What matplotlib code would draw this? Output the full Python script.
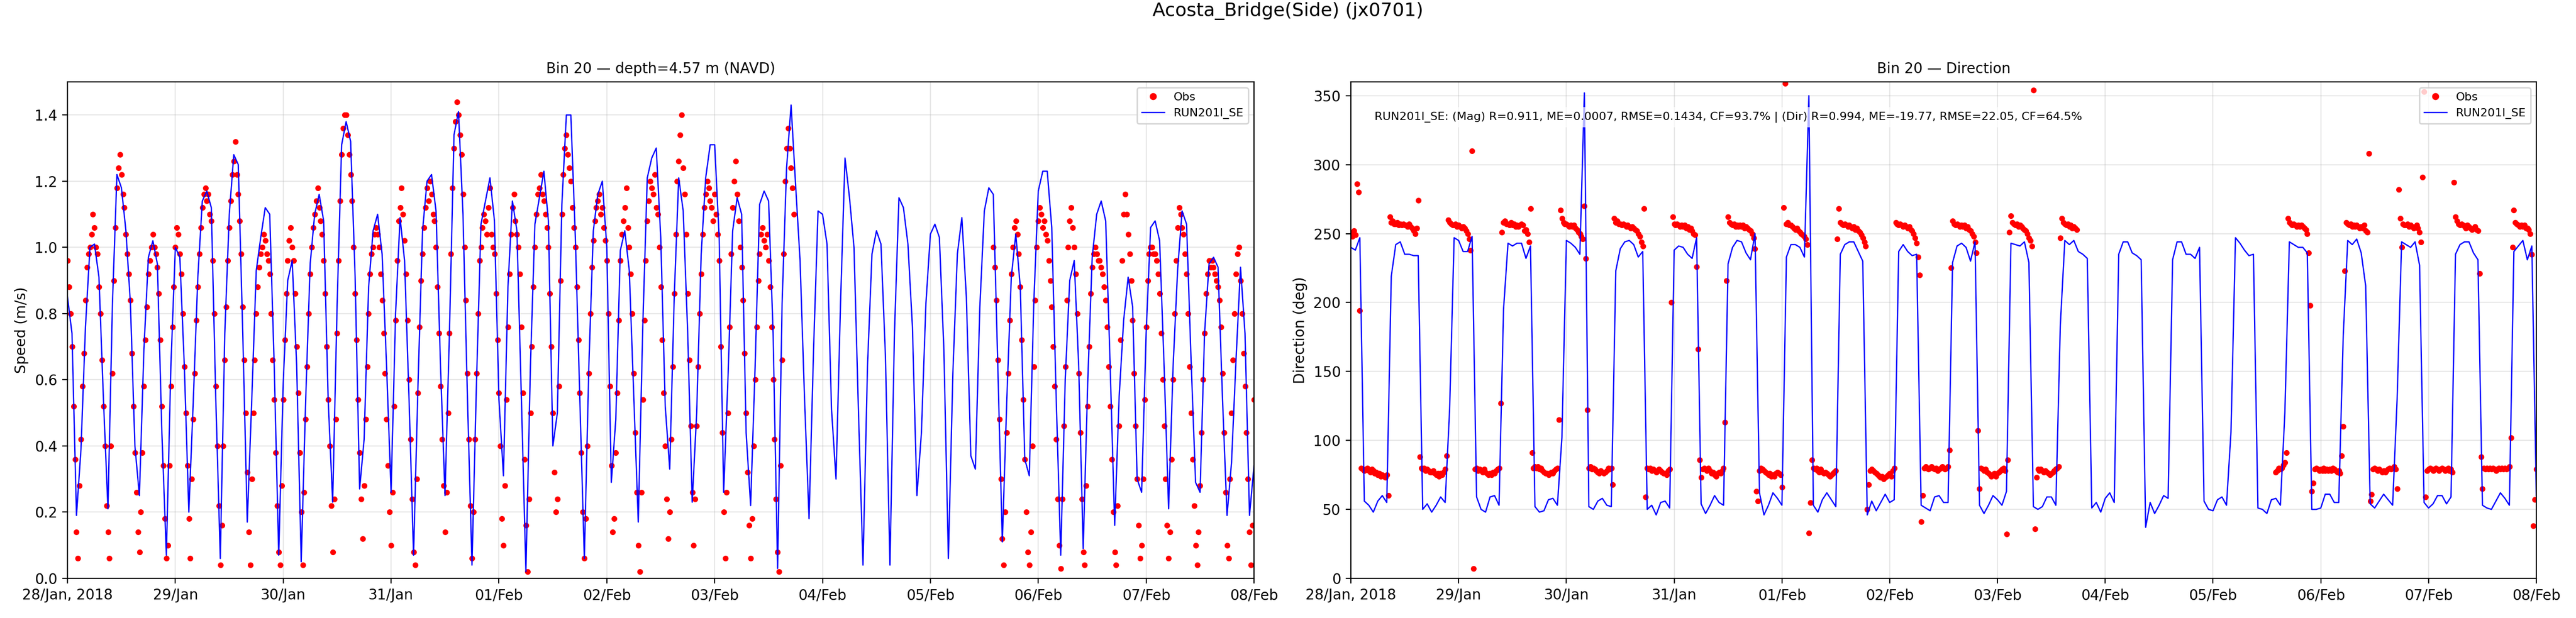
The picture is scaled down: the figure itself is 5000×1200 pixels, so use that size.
import numpy as np
import pandas as pd
import matplotlib
matplotlib.use("Agg")
import matplotlib.pyplot as plt
import matplotlib.dates as mdates

# ---------------- text ----------------
suptitle_text = "Acosta_Bridge(Side) (jx0701)"
title_speed = "Bin 20 \u2014 depth=4.57 m (NAVD)"
title_dir = "Bin 20 \u2014 Direction"
stats_text = ("RUN201I_SE: (Mag) R=0.911, ME=0.0007, RMSE=0.1434, CF=93.7% | "
              "(Dir) R=0.994, ME=-19.77, RMSE=22.05, CF=64.5%")
label_obs = "Obs"
label_model = "RUN201I_SE"
ylabel_speed = "Speed (m/s)"
ylabel_dir = "Direction (deg)"
x_tick_labels = ["28/Jan, 2018", "29/Jan", "30/Jan", "31/Jan", "01/Feb", "02/Feb",
                 "03/Feb", "04/Feb", "05/Feb", "06/Feb", "07/Feb", "08/Feb"]
speed_ticks = [0.0, 0.2, 0.4, 0.6, 0.8, 1.0, 1.2, 1.4]
dir_ticks = [0, 50, 100, 150, 200, 250, 300, 350]

# ---------------- data ----------------
model_start = "2018-01-28 00:00"          # hourly model output
obs_a_start = "2018-01-28 00:00"          # 20-min observations, part 1
obs_b_start = "2018-02-05 14:00"          # 20-min observations, part 2

# model speed (cm/s), hourly
model_speed_cm = [
    85, 74, 19, 39, 76, 100, 101, 91, 54, 21, 83, 122,
    118, 105, 83, 40, 25, 69, 97, 102, 95, 44, 7, 64,
    100, 97, 64, 20, 54, 91, 114, 117, 112, 54, 6, 74,
    110, 128, 125, 74, 17, 54, 93, 103, 112, 110, 64, 7,
    59, 90, 96, 64, 5, 54, 95, 110, 116, 108, 54, 23,
    83, 131, 138, 132, 91, 27, 42, 88, 105, 110, 98, 64,
    26, 80, 109, 96, 54, 7, 59, 105, 120, 122, 111, 64,
    25, 75, 134, 141, 110, 54, 4, 59, 107, 114, 121, 108,
    54, 31, 88, 114, 105, 54, 2, 64, 107, 115, 123, 108,
    40, 50, 113, 140, 140, 103, 54, 6, 64, 105, 116, 120,
    100, 29, 48, 99, 105, 93, 55, 17, 76, 121, 127, 130,
    103, 52, 33, 85, 121, 111, 74, 23, 50, 98, 121, 131,
    131, 103, 26, 62, 105, 115, 110, 44, 22, 64, 113, 117,
    114, 74, 3, 83, 124, 143, 119, 96, 54, 18, 69, 111,
    110, 101, 51, 30, 83, 127, 115, 100, 50, 4, 64, 98,
    105, 101, 67, 4, 74, 115, 112, 101, 76, 25, 44, 83,
    104, 107, 103, 69, 6, 62, 98, 109, 85, 37, 33, 82,
    111, 118, 116, 64, 11, 54, 91, 104, 88, 36, 31, 83,
    117, 123, 123, 106, 54, 7, 60, 90, 96, 64, 9, 59,
    97, 110, 114, 108, 64, 16, 55, 78, 91, 82, 30, 26,
    74, 106, 108, 102, 64, 21, 64, 93, 111, 107, 66, 29,
    26, 74, 95, 97, 94, 54, 19, 35, 66, 94, 74, 19,
    34,
]

# model direction (deg), hourly
model_dir = [
    240, 238, 247, 56, 53, 48, 56, 60, 55, 219, 242, 244,
    235, 235, 234, 234, 50, 54, 48, 53, 59, 55, 123, 247,
    245, 237, 237, 248, 59, 50, 48, 59, 60, 53, 195, 243,
    241, 243, 243, 232, 241, 52, 48, 49, 57, 58, 53, 102,
    245, 243, 240, 235, 352, 52, 50, 56, 58, 53, 52, 223,
    239, 244, 245, 242, 233, 237, 50, 53, 46, 55, 56, 51,
    238, 241, 240, 235, 232, 247, 54, 47, 53, 60, 55, 53,
    228, 240, 245, 244, 236, 231, 250, 62, 46, 53, 62, 58,
    53, 233, 242, 242, 240, 233, 350, 53, 48, 57, 62, 57,
    52, 235, 242, 244, 244, 237, 230, 46, 56, 49, 55, 61,
    55, 57, 237, 242, 237, 234, 235, 53, 51, 49, 59, 60,
    55, 55, 229, 241, 243, 240, 230, 244, 53, 47, 53, 60,
    57, 53, 63, 243, 242, 241, 244, 229, 52, 50, 52, 59,
    59, 53, 184, 245, 242, 245, 237, 235, 232, 51, 55, 48,
    58, 62, 55, 235, 244, 244, 236, 234, 231, 37, 55, 47,
    53, 60, 58, 231, 244, 244, 235, 235, 232, 240, 56, 50,
    49, 57, 59, 53, 106, 247, 243, 238, 234, 235, 51, 50,
    47, 57, 58, 53, 120, 244, 242, 240, 240, 236, 50, 50,
    51, 61, 61, 55, 55, 176, 245, 242, 246, 236, 212, 54,
    51, 56, 61, 57, 53, 130, 244, 242, 240, 244, 227, 55,
    51, 54, 60, 60, 54, 59, 235, 242, 244, 244, 236, 231,
    53, 51, 50, 56, 62, 58, 53, 237, 241, 245, 231, 241,
    60,
]

# observed speed (cm/s), 20-min, part 1 (28/Jan 00:00 - 03/Feb 17:40)
obs_speed_a_cm = [
    96, 88, 80, 70, 52, 36, 14, 6, 28, 42, 58, 68,
    84, 94, 98, 100, 104, 110, 106, 100, 98, 88, 80, 66,
    52, 40, 22, 14, 6, 40, 62, 90, 106, 118, 124, 128,
    122, 116, 112, 104, 98, 92, 84, 68, 52, 38, 26, 14,
    8, 20, 38, 58, 72, 82, 92, 96, 100, 104, 100, 98,
    94, 86, 72, 52, 34, 18, 6, 10, 34, 58, 76, 88,
    100, 106, 104, 98, 92, 80, 64, 50, 34, 18, 6, 30,
    48, 62, 78, 88, 98, 106, 112, 116, 118, 114, 116, 110,
    108, 96, 80, 58, 40, 22, 4, 16, 40, 66, 82, 96,
    106, 114, 122, 126, 132, 122, 116, 108, 98, 82, 66, 50,
    32, 14, 4, 30, 50, 66, 80, 88, 94, 98, 100, 104,
    102, 98, 96, 92, 80, 66, 54, 38, 22, 8, 4, 28,
    54, 72, 86, 96, 102, 106, 100, 96, 86, 70, 56, 38,
    20, 4, 26, 48, 64, 80, 92, 100, 106, 110, 114, 118,
    112, 108, 104, 96, 86, 70, 54, 40, 22, 8, 24, 48,
    74, 96, 114, 128, 136, 140, 140, 134, 128, 122, 114, 100,
    86, 72, 54, 38, 24, 12, 28, 48, 64, 80, 92, 98,
    100, 104, 106, 104, 100, 92, 84, 74, 62, 48, 34, 20,
    10, 26, 52, 78, 96, 108, 112, 118, 110, 102, 92, 78,
    60, 42, 24, 8, 4, 30, 56, 76, 90, 98, 106, 112,
    118, 114, 120, 116, 110, 108, 100, 88, 74, 58, 42, 28,
    14, 26, 50, 74, 98, 118, 130, 138, 144, 140, 134, 128,
    116, 100, 84, 62, 42, 22, 6, 20, 42, 62, 80, 96,
    100, 106, 110, 108, 104, 112, 118, 104, 100, 98, 86, 72,
    56, 40, 18, 10, 28, 54, 76, 92, 104, 112, 116, 108,
    104, 100, 92, 76, 56, 36, 16, 2, 24, 50, 70, 88,
    100, 110, 116, 118, 122, 116, 114, 110, 106, 100, 86, 70,
    50, 32, 20, 24, 58, 90, 110, 122, 130, 134, 128, 124,
    120, 112, 106, 100, 88, 72, 56, 38, 20, 6, 18, 40,
    62, 80, 94, 102, 108, 112, 114, 116, 110, 112, 106, 102,
    96, 80, 58, 34, 14, 18, 38, 56, 78, 96, 104, 108,
    112, 118, 106, 100, 92, 80, 62, 44, 26, 10, 2, 26,
    54, 78, 96, 108, 114, 120, 118, 116, 122, 112, 110, 100,
    88, 72, 56, 40, 24, 12, 20, 42, 64, 86, 104, 120,
    126, 134, 140, 124, 116, 104, 86, 66, 46, 26, 10, 24,
    46, 64, 80, 92, 104, 112, 116, 120, 118, 114, 112, 108,
    116, 110, 104, 96, 70, 44, 20, 6, 26, 50, 76, 98,
    112, 120, 126, 116, 108, 100, 94, 84, 68, 50, 32, 16,
    6, 18, 40, 60, 76, 90, 98, 104, 106, 102, 100, 104,
    96, 88, 76, 60, 42, 24, 8, 2, 34, 66, 98, 120,
    130, 136, 130, 124, 118, 110,
]

# observed speed (cm/s), 20-min, part 2 (05/Feb 14:00 - 08/Feb 00:00)
obs_speed_b_cm = [
    100, 94, 84, 66, 48, 30, 12, 4, 20, 44, 62, 78,
    92, 100, 106, 108, 104, 98, 88, 72, 54, 36, 20, 8,
    4, 14, 40, 64, 84, 100, 108, 112, 110, 106, 108, 104,
    102, 96, 90, 82, 70, 58, 42, 24, 10, 3, 24, 46,
    64, 84, 100, 108, 112, 106, 100, 92, 80, 62, 44, 24,
    8, 4, 28, 52, 70, 86, 94, 98, 100, 98, 96, 96,
    94, 92, 88, 84, 76, 64, 52, 36, 20, 8, 4, 22,
    46, 72, 96, 110, 116, 110, 104, 98, 90, 78, 62, 46,
    30, 16, 6, 10, 30, 54, 76, 90, 98, 100, 100, 98,
    98, 96, 92, 86, 74, 60, 46, 30, 16, 6, 14, 36,
    60, 80, 96, 106, 112, 110, 106, 104, 98, 92, 80, 64,
    50, 36, 22, 10, 4, 14, 28, 44, 60, 74, 86, 92,
    96, 94, 96, 94, 92, 90, 88, 84, 76, 62, 44, 26,
    10, 6, 30, 50, 66, 80, 92, 98, 100, 90, 80, 68,
    58, 44, 30, 14, 4, 16, 54,
]

# observed direction (deg), 20-min, part 1
obs_dir_a = [
    250, 248, 252, 249, 286, 280, 194, 80, 79, 78, 79, 80,
    78, 77, 79, 78, 76, 77, 75, 76, 74, 75, 74, 73,
    75, 60, 262, 258, 259, 257, 257, 258, 256, 257, 256, 257,
    256, 256, 255, 257, 255, 254, 252, 250, 254, 274, 88, 80,
    79, 80, 78, 79, 78, 77, 77, 78, 76, 75, 76, 74,
    76, 75, 77, 79, 89, 260, 258, 257, 256, 256, 257, 255,
    256, 255, 254, 255, 254, 252, 250, 246, 238, 310, 7, 79,
    80, 78, 79, 78, 77, 79, 77, 76, 75, 76, 75, 77,
    76, 78, 79, 80, 127, 251, 258, 259, 257, 257, 256, 258,
    256, 257, 255, 256, 255, 256, 257, 256, 252, 253, 250, 244,
    268, 91, 80, 81, 80, 81, 79, 80, 78, 77, 76, 76,
    75, 76, 77, 76, 78, 79, 80, 115, 267, 261, 258, 257,
    257, 256, 255, 256, 255, 256, 254, 253, 251, 250, 248, 246,
    270, 232, 122, 80, 81, 79, 80, 79, 78, 77, 76, 78,
    77, 76, 77, 78, 80, 79, 80, 68, 261, 258, 259, 257,
    257, 256, 257, 256, 255, 256, 255, 254, 255, 254, 253, 252,
    250, 248, 244, 241, 268, 59, 80, 79, 80, 78, 79, 78,
    77, 78, 79, 78, 77, 76, 76, 75, 78, 79, 200, 262,
    257, 256, 257, 256, 255, 256, 255, 256, 254, 255, 253, 254,
    252, 250, 249, 226, 166, 86, 73, 79, 80, 79, 78, 80,
    78, 76, 77, 75, 74, 76, 77, 76, 78, 80, 113, 216,
    262, 258, 257, 256, 257, 255, 256, 255, 256, 255, 256, 254,
    255, 254, 253, 252, 250, 247, 239, 63, 56, 78, 80, 79,
    78, 77, 76, 75, 76, 74, 75, 74, 76, 77, 76, 75,
    66, 269, 359, 257, 258, 256, 256, 255, 254, 253, 254, 252,
    251, 250, 249, 248, 246, 242, 33, 55, 86, 80, 79, 80,
    78, 77, 79, 77, 76, 77, 76, 75, 74, 75, 76, 77,
    78, 246, 268, 258, 257, 256, 257, 256, 255, 256, 255, 254,
    255, 253, 254, 252, 251, 249, 247, 244, 241, 50, 68, 78,
    79, 78, 77, 76, 75, 74, 73, 74, 72, 73, 74, 75,
    76, 74, 78, 80, 258, 257, 256, 257, 256, 255, 256, 255,
    254, 255, 253, 252, 250, 247, 243, 233, 220, 41, 60, 80,
    81, 80, 79, 80, 81, 80, 79, 80, 78, 79, 80, 81,
    80, 79, 80, 81, 93, 225, 259, 257, 256, 257, 256, 255,
    256, 255, 256, 254, 255, 253, 252, 250, 248, 244, 236, 107,
    65, 80, 79, 78, 79, 77, 76, 75, 74, 75, 76, 74,
    76, 77, 78, 79, 80, 78, 32, 86, 251, 263, 258, 257,
    256, 257, 255, 256, 255, 254, 253, 252, 250, 247, 245, 241,
    354, 36, 73, 79, 78, 79, 78, 77, 78, 77, 76, 75,
    76, 77, 78, 79, 80, 81, 247, 261, 258, 257, 256, 257,
    255, 256, 254, 255, 254, 253,
]

# observed direction (deg), 20-min, part 2
obs_dir_b = [
    77, 78, 80, 79, 80, 82, 84, 91, 261, 258, 257, 256,
    257, 256, 255, 256, 255, 256, 255, 254, 253, 250, 236, 198,
    63, 69, 79, 80, 79, 78, 79, 78, 80, 78, 79, 78,
    79, 78, 80, 79, 78, 77, 78, 76, 89, 110, 223, 258,
    257, 256, 257, 255, 256, 255, 256, 255, 254, 255, 254, 256,
    252, 251, 308, 56, 61, 79, 80, 79, 78, 79, 78, 77,
    78, 77, 78, 79, 80, 79, 80, 81, 79, 65, 282, 261,
    240, 257, 256, 256, 257, 255, 256, 255, 254, 255, 256, 254,
    251, 244, 291, 353, 59, 78, 79, 80, 79, 78, 79, 80,
    79, 78, 79, 80, 79, 78, 79, 80, 78, 79, 77, 287,
    262, 259, 257, 256, 257, 256, 255, 254, 256, 255, 254, 253,
    254, 255, 253, 252, 221, 88, 65, 80, 79, 80, 79, 80,
    79, 80, 79, 78, 79, 80, 79, 80, 79, 80, 79, 80,
    81, 102, 240, 267, 258, 257, 256, 255, 256, 255, 256, 254,
    254, 253, 250, 235, 38, 57, 79,
]

# ---------------- series ----------------
t_model = pd.date_range(model_start, periods=len(model_speed_cm), freq="h")
t_obs_a = pd.date_range(obs_a_start, periods=len(obs_speed_a_cm), freq="20min")
t_obs_b = pd.date_range(obs_b_start, periods=len(obs_speed_b_cm), freq="20min")

model_speed = np.array(model_speed_cm, dtype=float) / 100.0
model_direction = np.array(model_dir, dtype=float)

obs_t = list(t_obs_a) + list(t_obs_b)
obs_speed = np.array(obs_speed_a_cm + obs_speed_b_cm, dtype=float) / 100.0
na = min(len(t_obs_a), len(obs_dir_a))
nb = min(len(t_obs_b), len(obs_dir_b))
obs_dir_t = list(t_obs_a[:na]) + list(t_obs_b[:nb])
obs_direction = np.array(obs_dir_a[:na] + obs_dir_b[:nb], dtype=float)

tick_dates = pd.date_range("2018-01-28", "2018-02-08", freq="D")
tick_nums = mdates.date2num(tick_dates.to_pydatetime())

# ---------------- figure ----------------
fig = plt.figure(figsize=(25, 6), dpi=200)
ax1 = fig.add_axes([0.0262, 0.0642, 0.4606, 0.8033])
ax2 = fig.add_axes([0.5244, 0.0642, 0.4602, 0.8033])

fig.suptitle(suptitle_text, fontsize=13, y=0.997, va="top")

for ax in (ax1, ax2):
    ax.grid(True, alpha=0.3)
    ax.set_xlim(tick_nums[0], tick_nums[-1])
    ax.set_xticks(tick_nums)
    ax.set_xticklabels(x_tick_labels)
    ax.tick_params(labelsize=10)

# speed panel
ax1.plot(obs_t, obs_speed, "o", color="red", ms=3, ls="none", label=label_obs)
ax1.plot(t_model, model_speed, "-", color="blue", lw=0.9, label=label_model)
ax1.set_ylim(0, 1.5)
ax1.set_yticks(speed_ticks)
ax1.set_ylabel(ylabel_speed, fontsize=10)
ax1.set_title(title_speed, fontsize=10)
ax1.legend(loc="upper right", fontsize=8, markerscale=1.3)

# direction panel
ax2.plot(obs_dir_t, obs_direction, "o", color="red", ms=3, ls="none", label=label_obs)
ax2.plot(t_model, model_direction, "-", color="blue", lw=0.9, label=label_model)
ax2.set_ylim(0, 360)
ax2.set_yticks(dir_ticks)
ax2.set_ylabel(ylabel_dir, fontsize=10)
ax2.set_title(title_dir, fontsize=10)
ax2.legend(loc="upper right", fontsize=8, markerscale=1.3)
ax2.text(0.02, 0.94, stats_text, transform=ax2.transAxes, fontsize=8,
         va="top", ha="left",
         bbox=dict(boxstyle="round,pad=0.4", facecolor="white", alpha=0.7,
                   edgecolor="none"))

fig.savefig("out.png", dpi=200)
